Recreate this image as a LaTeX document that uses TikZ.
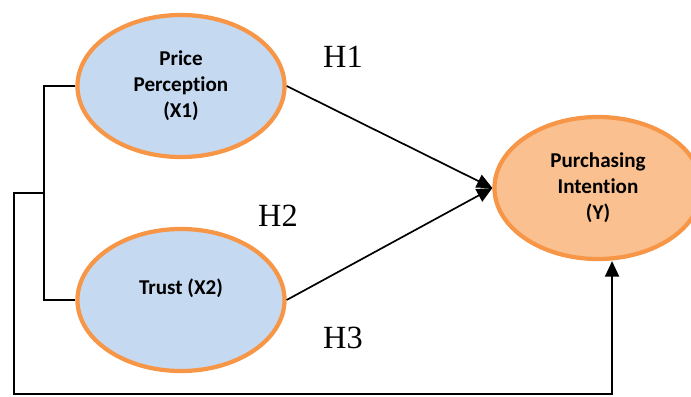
\documentclass[tikz,border=0pt]{standalone}
\usepackage{fontspec}
\setmainfont{Liberation Serif}
\newfontfamily\boxfont{Carlito}[Ligatures=NoCommon]
\usepackage{xcolor}
\usepackage{tikz}
\usetikzlibrary{shapes,arrows,positioning,calc,arrows.meta}

\definecolor{varblue}{RGB}{197,217,240}
\definecolor{varedge}{RGB}{247,150,70}
\definecolor{varfill}{RGB}{250,192,144}

\tikzset{
    varnode/.style={ellipse, draw=varedge, line width=3pt, fill=varblue,
        minimum width=5.175cm, minimum height=3.55cm, inner sep=0pt,
        align=center, font=\boxfont\bfseries\fontsize{15}{18.5}\selectfont},
    hyp/.style={font=\fontsize{23}{27}\selectfont},
    link/.style={line width=1.2pt, -{Triangle[length=11pt,width=10pt]}},
    bracket/.style={line width=1.2pt}
}

\begin{document}
\begin{tikzpicture}[x=0.025cm, y=-0.025cm]
    \useasboundingbox (0,0) rectangle (691,396);
    % Variables
    \node[varnode] (x1) at (181,86) {Price\\Perception\\(X1)};
    \node[varnode] (x2) at (181,300) {Trust (X2)\\\mbox{}};
    \node[varnode, fill=varfill] (y) at (598,188) {Purchasing\\Intention\\(Y)};
    % Hypotheses
    \draw[link] (x1.east) -- (y.west);
    \draw[link] (x2.east) -- (y.west);
    \node[hyp] (h1) at (343,57) {H1};
    \node[hyp] (h2) at (278,216) {H2};
    \node[hyp] (h3) at (343,338) {H3};
    % Joint effect
    \coordinate (split) at (44,193);
    \coordinate (corner) at (14,394);
    \draw[bracket] (x1.west) -| (split) |- (x2.west);
    \draw[link] (split) -| (corner) -| ([xshift=10]y.south);
\end{tikzpicture}
\end{document}
